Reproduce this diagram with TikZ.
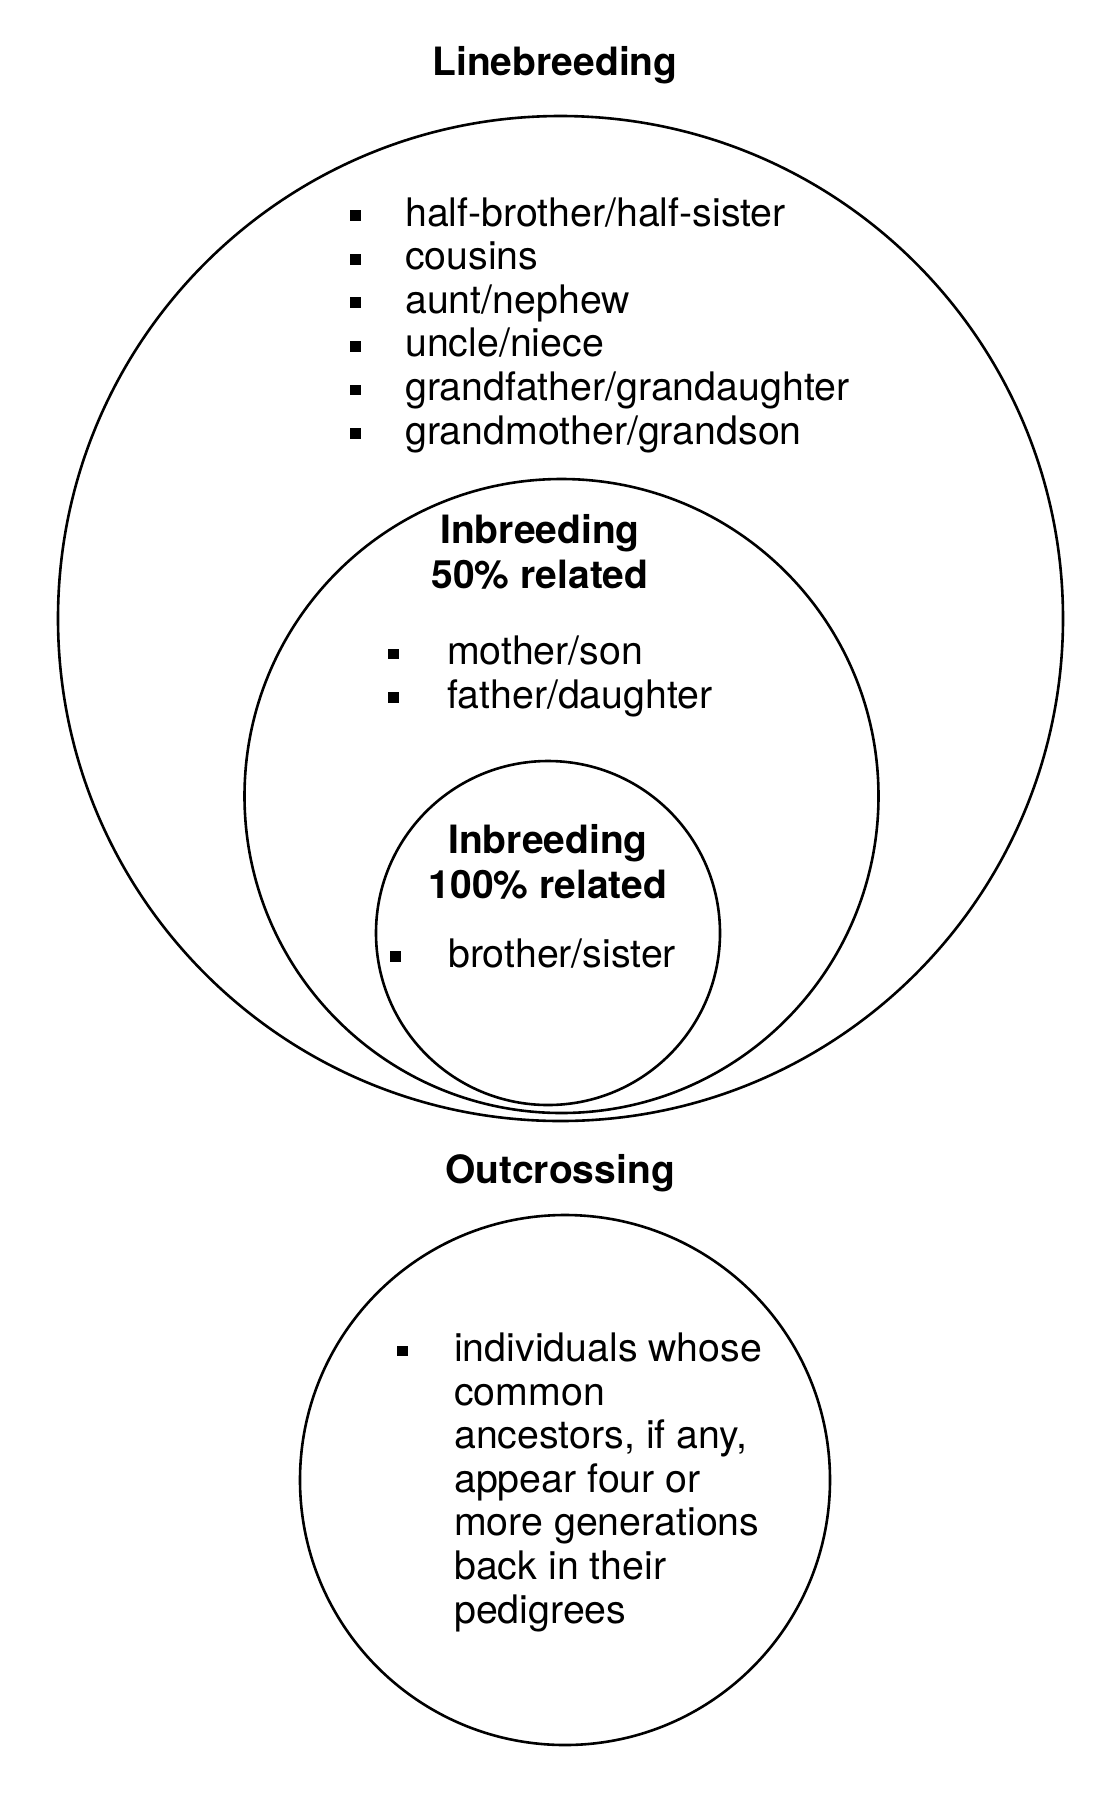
\documentclass[tikz,border=0pt]{standalone}
\usepackage{fontspec}
\setmainfont{TeX Gyre Heros}
\newcommand{\sqb}{\rule[0.13em]{0.27em}{0.27em}}
\newcommand{\itm}[2][57pt]{\makebox[#1][l]{\sqb}#2}
\newcommand{\cnt}[2][57pt]{\hspace*{#1}#2}
\tikzset{
  ring/.style={circle, draw, line width=2.6pt, inner sep=0pt},
  head/.style={align=center, font=\fontsize{39}{45}\selectfont\bfseries,
               inner sep=0pt, anchor=base},
  lst/.style={align=left, font=\fontsize{39.3}{43.6}\selectfont,
              inner sep=0pt, anchor=base west},
}

\begin{document}
\begin{tikzpicture}[x=1pt,y=-1pt]
\useasboundingbox (0,0) rectangle (1115,1800);
\node[ring, minimum size=1005pt] (line) at (560.5,618.5) {};
\node[ring, minimum size=634pt] (half) at (561.5,796) {};
\node[ring, minimum size=344pt] (full) at (548,933) {};
\node[ring, minimum size=530pt] (out) at (565,1480) {};
% base anchor of a multi-line node sits on its last line
\node[head] (linehd) at (555,75) {Linebreeding};
\node[lst] (linelst) at (350,444) {\itm[55pt]{half-brother/half-sister}\\
  \itm[55pt]{cousins}\\ \itm[55pt]{aunt/nephew}\\ \itm[55pt]{uncle/niece}\\
  \itm[55pt]{grandfather/grandaughter}\\ \itm[55pt]{grandmother/grandson}};
\node[head] (halfhd) at (540,588) {Inbreeding\\50\% related};
\node[lst] (halflst) at (388,708) {\itm[59pt]{mother/son}\\ \itm[59pt]{father/daughter}};
\node[head] (fullhd) at (548,898) {Inbreeding\\100\% related};
\node[lst] (fulllst) at (390,967) {\itm[58pt]{brother/sister}};
\node[head] (outhd) at (560,1183) {Outcrossing};
\node[lst] (outlst) at (397,1623) {\itm{individuals whose}\\ \cnt{common}\\
  \cnt{ancestors, if any,}\\ \cnt{appear four or}\\ \cnt{more generations}\\
  \cnt{back in their}\\ \cnt{pedigrees}};
\end{tikzpicture}
\end{document}
